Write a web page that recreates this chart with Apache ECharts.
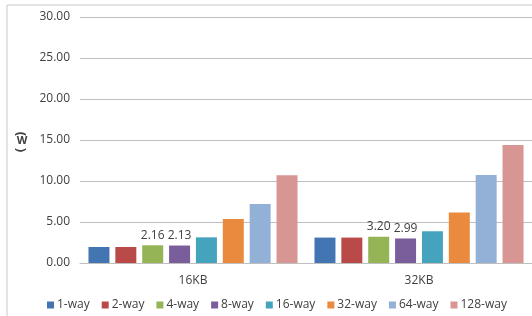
<!DOCTYPE html>
<html>
<head>
<meta charset="utf-8">
<script src="https://cdn.jsdelivr.net/npm/echarts@6/dist/echarts.min.js"></script>
<style>
  html, body { margin: 0; padding: 0; background: #fff; }
  #chart { width: 532px; height: 316px; }
</style>
</head>
<body>
<div id="chart"></div>
<script>
const categories = ['16KB', '32KB']
const seriesNames = ['1-way', '2-way', '4-way', '8-way', '16-way', '32-way', '64-way', '128-way']
const seriesValues = [
  [1.95, 3.10],
  [1.95, 3.10],
  [2.16, 3.20],
  [2.13, 2.99],
  [3.13, 3.87],
  [5.37, 6.15],
  [7.20, 10.73],
  [10.70, 14.40]
]
const labelledSeries = ['4-way', '8-way']
const yTicks = { min: 0, max: 30, interval: 5 }
const colors = ['#4375B3', '#BA4A47', '#94B455', '#7A5E9B', '#45A3BD', '#E98A3F', '#93B0D6', '#D79593']

const chart = echarts.init(document.getElementById('chart'))

const textFont = '"Open Sans", "Noto Sans", sans-serif'

chart.setOption({
  animation: false,
  backgroundColor: '#fff',
  color: colors,
  textStyle: { fontFamily: textFont },
  grid: { left: 80, right: 0, top: 17, bottom: 53, containLabel: false },
  graphic: [
    {
      type: 'polyline',
      shape: { points: [[7, 320], [7, 5], [540, 5]] },
      style: { stroke: '#c8c8c8', lineWidth: 1, fill: null },
      silent: true
    },
    // axis title "(W)" in vertical layout: arcs above and below the W
    {
      type: 'text',
      x: 21, y: 134, rotation: -Math.PI / 2,
      style: { text: '(', fontSize: 13, fontWeight: 'bold', fill: '#404040', align: 'center', verticalAlign: 'middle', fontFamily: textFont }
    },
    {
      type: 'text',
      x: 22, y: 141,
      style: { text: 'W', fontSize: 11, fontWeight: 'bold', fill: '#404040', align: 'center', verticalAlign: 'middle', fontFamily: textFont }
    },
    {
      type: 'text',
      x: 21, y: 150, rotation: -Math.PI / 2,
      style: { text: ')', fontSize: 13, fontWeight: 'bold', fill: '#404040', align: 'center', verticalAlign: 'middle', fontFamily: textFont }
    }
  ],
  legend: {
    bottom: 0,
    left: 42,
    itemWidth: 7,
    itemHeight: 7,
    itemGap: 12,
    icon: 'rect',
    textStyle: { color: '#404040', fontSize: 12, padding: [0, 0, 0, -2] },
    data: seriesNames
  },
  xAxis: {
    type: 'category',
    data: categories,
    axisLine: { show: true, lineStyle: { color: '#bfbfbf' } },
    axisTick: { show: false },
    axisLabel: { color: '#404040', fontSize: 12, margin: 12 }
  },
  yAxis: {
    type: 'value',
    min: yTicks.min,
    max: yTicks.max,
    interval: yTicks.interval,
    axisLine: { show: false },
    axisTick: { show: false },
    axisLabel: {
      color: '#404040',
      fontSize: 12,
      margin: 10,
      formatter: (v) => v.toFixed(2)
    },
    splitLine: { lineStyle: { color: '#bfbfbf' } }
  },
  series: seriesNames.map((name, i) => ({
    name,
    type: 'bar',
    data: seriesValues[i],
    barGap: '28%',
    barCategoryGap: '7.5%',
    label: {
      show: labelledSeries.includes(name),
      position: 'top',
      distance: 4,
      color: '#404040',
      fontSize: 12,
      formatter: (p) => p.value.toFixed(2)
    }
  }))
})
</script>
</body>
</html>
